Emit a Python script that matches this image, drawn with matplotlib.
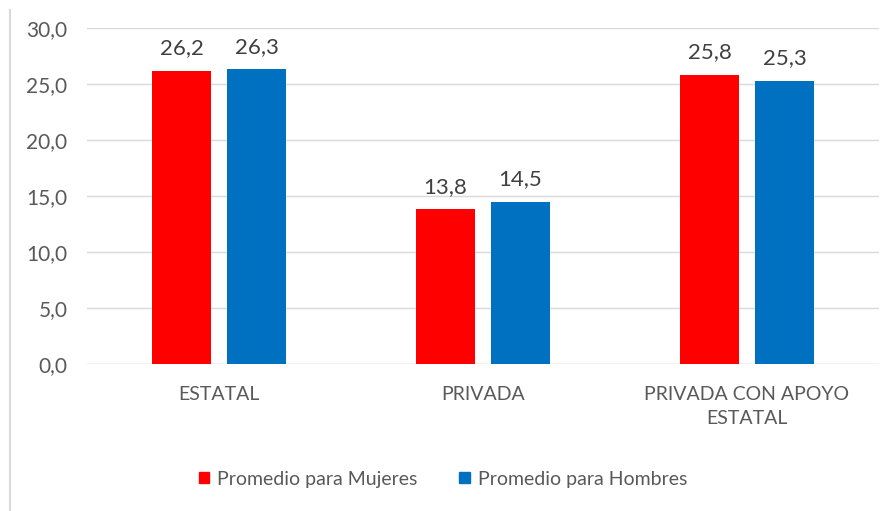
import numpy as np
import matplotlib.pyplot as plt
from matplotlib.patches import Rectangle
from matplotlib.lines import Line2D

plt.rcParams['font.family'] = ['Lato', 'DejaVu Sans']

# Datos
categorias = ["ESTATAL", "PRIVADA", "PRIVADA CON APOYO\nESTATAL"]
mujeres = [26.2, 13.8, 25.8]
hombres = [26.3, 14.5, 25.3]
series = ["Promedio para Mujeres", "Promedio para Hombres"]
colores = ["#FF0000", "#0070C0"]
texto = "#595959"

fig = plt.figure(figsize=(8.94, 5.11), dpi=100)
ax = fig.add_axes([87 / 894, 1 - 364 / 511, (879 - 87) / 894, 336 / 511])

x = np.arange(len(categorias))
ancho = 0.227
desp = 0.142

b1 = ax.bar(x - desp, mujeres, ancho, color=colores[0], zorder=3)
b2 = ax.bar(x + desp, hombres, ancho, color=colores[1], zorder=3)

for barras, vals in [(b1, mujeres), (b2, hombres)]:
    for r, v in zip(barras, vals):
        ax.annotate(f"{v:.1f}".replace(".", ","),
                    (r.get_x() + r.get_width() / 2, v),
                    xytext=(0, 9), textcoords="offset points",
                    ha="center", va="bottom", fontsize=16, color="#404040")

ax.set_xlim(-0.5, 2.5)
ax.set_ylim(0, 30)
ax.set_yticks(np.arange(0, 31, 5))
ax.set_yticklabels([f"{t:.1f}".replace(".", ",") for t in np.arange(0, 31, 5)])
ax.set_xticks(x)
ax.set_xticklabels(categorias, linespacing=1.5)
ax.tick_params(axis="both", length=0, colors=texto)
ax.tick_params(axis="x", pad=16, labelsize=14)
ax.tick_params(axis="y", pad=14, labelsize=15)
ax.grid(axis="y", color="#D9D9D9", linewidth=1, zorder=0)
for s in ax.spines.values():
    s.set_visible(False)
ax.axhline(0, color="#D9D9D9", linewidth=1, zorder=2)

# Borde izquierdo del área del gráfico
fig.add_artist(Line2D([10 / 894, 10 / 894], [0, 1 - 10 / 511],
                      transform=fig.transFigure, color="#D9D9D9", linewidth=1.5))

handles = [Rectangle((0, 0), 1, 1, color=c) for c in colores]
fig.legend(handles, series, loc="center", bbox_to_anchor=(443 / 894, 1 - 479 / 511),
           ncol=2, frameon=False, fontsize=14, labelcolor=texto,
           handlelength=0.55, handleheight=0.55, handletextpad=0.4, columnspacing=2.15)

fig.savefig("out.png", dpi=100)
